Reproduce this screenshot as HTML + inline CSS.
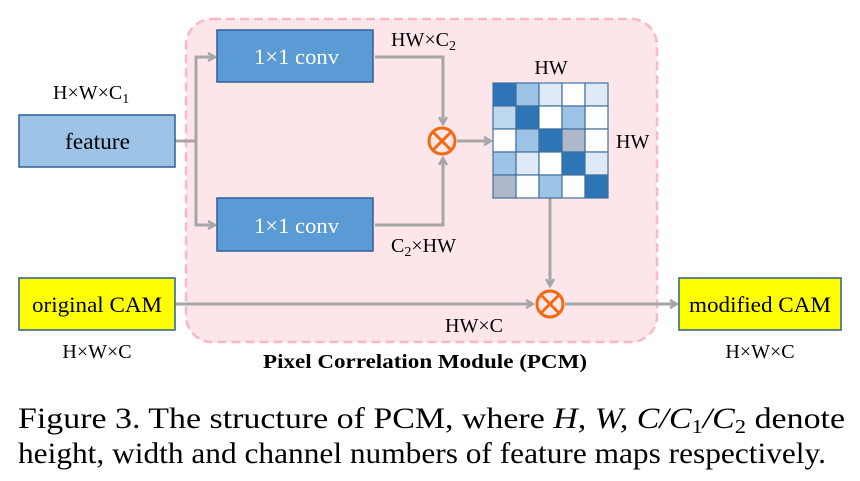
<!DOCTYPE html>
<html><head><meta charset="utf-8"><style>body{margin:0;background:#fff}svg{display:block}</style></head><body>
<svg width="860" height="481" viewBox="0 0 860 481" xmlns="http://www.w3.org/2000/svg" font-family="'Liberation Serif',serif">
<defs><marker id="a" markerWidth="10" markerHeight="10" refX="8" refY="5" orient="auto" markerUnits="userSpaceOnUse"><path d="M1,1 L8,5 L1,9" fill="none" stroke="#a6a6a6" stroke-width="2.5"/></marker></defs>
<rect x="186" y="19" width="471" height="323" rx="26" fill="#fde6ea" stroke="#f9b8c3" stroke-width="2.5" stroke-dasharray="9,5"/>
<g stroke="#a6a6a6" stroke-width="3" fill="none">
<path d="M175,141 H196 V57 H215" marker-end="url(#a)"/>
<path d="M196,141 V225 H215" marker-end="url(#a)"/>
<path d="M375,57 H443 V124" marker-end="url(#a)"/>
<path d="M375,225 H443 V158" marker-end="url(#a)"/>
<path d="M457,141 H491" marker-end="url(#a)"/>
<path d="M550,198 V286" marker-end="url(#a)"/>
<path d="M175,304 H533" marker-end="url(#a)"/>
<path d="M565,304 H677" marker-end="url(#a)"/>
</g>
<rect x="19" y="115" width="156" height="52" fill="#9dc3e6" stroke="#2f5f94" stroke-width="1.5"/>
<text x="65" y="149" font-size="23" textLength="65" lengthAdjust="spacingAndGlyphs">feature</text>
<text x="53" y="99" font-size="20">H×W×C<tspan font-size="14" dy="4">1</tspan></text>
<rect x="217" y="30" width="156" height="52" fill="#5b9bd5" stroke="#2f5f94" stroke-width="1.5"/>
<text x="254" y="64" font-size="22" fill="#fff" textLength="85" lengthAdjust="spacingAndGlyphs">1×1 conv</text>
<rect x="217" y="198" width="156" height="53" fill="#5b9bd5" stroke="#2f5f94" stroke-width="1.5"/>
<text x="254" y="233" font-size="22" fill="#fff" textLength="85" lengthAdjust="spacingAndGlyphs">1×1 conv</text>
<text x="391" y="46" font-size="20">HW×C<tspan font-size="14" dy="4">2</tspan></text>
<text x="391" y="252" font-size="20">C<tspan font-size="14" dy="4">2</tspan><tspan dy="-4">×HW</tspan></text>
<g stroke="#f26a10" stroke-width="3" fill="none"><circle cx="442" cy="141" r="13"/><path d="M433,132 L451,150 M451,132 L433,150"/>
<circle cx="550" cy="304" r="13"/><path d="M541,295 L559,313 M559,295 L541,313"/></g>
<g stroke="#41719c" stroke-width="1.2">
<rect x="493" y="83" width="23" height="23" fill="#2e75b6"/><rect x="516" y="83" width="23" height="23" fill="#9dc3e6"/><rect x="539" y="83" width="23" height="23" fill="#deebf7"/><rect x="562" y="83" width="23" height="23" fill="#fff"/><rect x="585" y="83" width="23" height="23" fill="#deebf7"/>
<rect x="493" y="106" width="23" height="23" fill="#bdd7ee"/><rect x="516" y="106" width="23" height="23" fill="#2e75b6"/><rect x="539" y="106" width="23" height="23" fill="#fff"/><rect x="562" y="106" width="23" height="23" fill="#9dc3e6"/><rect x="585" y="106" width="23" height="23" fill="#fff"/>
<rect x="493" y="129" width="23" height="23" fill="#fff"/><rect x="516" y="129" width="23" height="23" fill="#9dc3e6"/><rect x="539" y="129" width="23" height="23" fill="#2e75b6"/><rect x="562" y="129" width="23" height="23" fill="#adb9ca"/><rect x="585" y="129" width="23" height="23" fill="#fff"/>
<rect x="493" y="152" width="23" height="23" fill="#9dc3e6"/><rect x="516" y="152" width="23" height="23" fill="#deebf7"/><rect x="539" y="152" width="23" height="23" fill="#fff"/><rect x="562" y="152" width="23" height="23" fill="#2e75b6"/><rect x="585" y="152" width="23" height="23" fill="#deebf7"/>
<rect x="493" y="175" width="23" height="23" fill="#adb9ca"/><rect x="516" y="175" width="23" height="23" fill="#fff"/><rect x="539" y="175" width="23" height="23" fill="#9dc3e6"/><rect x="562" y="175" width="23" height="23" fill="#fff"/><rect x="585" y="175" width="23" height="23" fill="#2e75b6"/>
</g>
<text x="551" y="74" font-size="20" text-anchor="middle">HW</text>
<text x="616" y="148" font-size="20">HW</text>
<rect x="19" y="278" width="156" height="52" fill="#ffff00" stroke="#2f5f94" stroke-width="1.5"/>
<text x="32" y="312" font-size="22" textLength="130" lengthAdjust="spacingAndGlyphs">original CAM</text>
<text x="97" y="358" font-size="20" text-anchor="middle">H×W×C</text>
<text x="474" y="332" font-size="20" text-anchor="middle">HW×C</text>
<rect x="679" y="278" width="162" height="52" fill="#ffff00" stroke="#2f5f94" stroke-width="1.5"/>
<text x="689" y="312" font-size="22" textLength="142" lengthAdjust="spacingAndGlyphs">modified CAM</text>
<text x="760" y="358" font-size="20" text-anchor="middle">H×W×C</text>
<text x="263" y="368" font-size="20" font-weight="bold" textLength="324" lengthAdjust="spacingAndGlyphs">Pixel Correlation Module (PCM)</text>
<text x="18" y="428" font-size="30" textLength="827" lengthAdjust="spacingAndGlyphs">Figure 3. The structure of PCM, where <tspan font-style="italic">H, W, C/C</tspan><tspan font-size="20" dy="5">1</tspan><tspan font-style="italic" dy="-5">/C</tspan><tspan font-size="20" dy="5">2</tspan><tspan dy="-5"> denote</tspan></text>
<text x="18" y="463" font-size="30" textLength="808" lengthAdjust="spacingAndGlyphs">height, width and channel numbers of feature maps respectively.</text>
</svg>
</body></html>
